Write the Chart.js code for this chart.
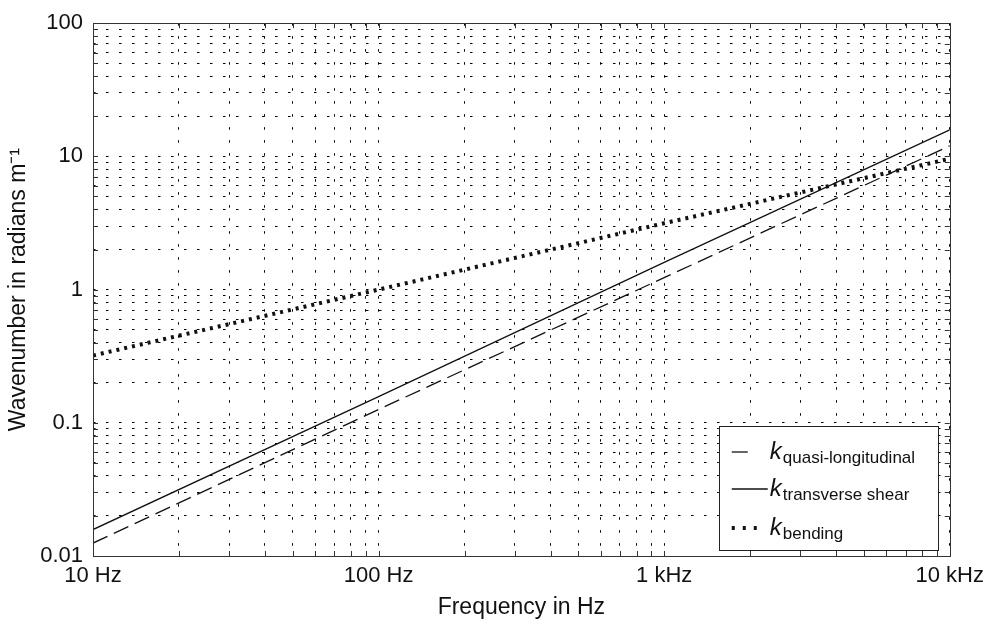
<!DOCTYPE html>
<html>
<head>
<meta charset="utf-8">
<script src="https://cdn.jsdelivr.net/npm/chart.js@4.4.1/dist/chart.umd.min.js"></script>
<style>
  html, body { margin: 0; padding: 0; background: #fff; }
  #wrap { width: 991px; height: 624px; }
</style>
</head>
<body>
<div id="wrap"><canvas id="waveChart" width="991" height="624"></canvas></div>
<script>
// values (log-log)
const freqHz = [10, 100, 1000, 10000];
const kQuasiLongitudinal = [0.0125, 0.126, 1.23, 12.0];
const kTransverseShear = [0.0158, 0.157, 1.6, 15.8];
const kBending = [0.32, 1.0, 3.15, 9.6];

const xTickValues = [10, 100, 1000, 10000];
const xTickLabels = ["10 Hz", "100 Hz", "1 kHz", "10 kHz"];
const yTickValues = [0.01, 0.1, 1, 10, 100];
const yTickLabels = ["0.01", "0.1", "1", "10", "100"];
const legendSubs = ["quasi-longitudinal", "transverse shear", "bending"];

const FONT = "'Liberation Sans', Arial, sans-serif";

function pts(ys) {
  return freqHz.map((f, i) => ({ x: f, y: ys[i] }));
}

// 1..9 x 10^n ticks between min and max
function logTicks(min, max) {
  const out = [];
  const e0 = Math.floor(Math.log10(min));
  const e1 = Math.ceil(Math.log10(max));
  for (let e = e0; e <= e1; e++) {
    for (let m = 1; m <= 9; m++) {
      const v = parseFloat((m * Math.pow(10, e)).toPrecision(6));
      if (v >= min * 0.999 && v <= max * 1.001) out.push({ value: v });
    }
  }
  return out;
}

function labelFor(values, labels, v) {
  const i = values.findIndex(t => Math.abs(t - v) / t < 1e-6);
  return i >= 0 ? labels[i] : "";
}

// box + inward tick marks, like the original plot
const frameTicks = {
  id: "frameTicks",
  afterDatasetsDraw(chart) {
    const { ctx, chartArea: a, scales } = chart;
    ctx.save();
    ctx.strokeStyle = "#333";
    ctx.lineWidth = 1;
    ctx.setLineDash([]);
    ctx.strokeRect(Math.round(a.left) + 0.5, Math.round(a.top) + 0.5,
      Math.round(a.right - a.left), Math.round(a.bottom - a.top));
    const len = 5;
    ctx.beginPath();
    scales.x.ticks.forEach(t => {
      const px = Math.round(scales.x.getPixelForValue(t.value)) + 0.5;
      ctx.moveTo(px, a.bottom); ctx.lineTo(px, a.bottom - len);
      ctx.moveTo(px, a.top); ctx.lineTo(px, a.top + len);
    });
    scales.y.ticks.forEach(t => {
      const py = Math.round(scales.y.getPixelForValue(t.value)) + 0.5;
      ctx.moveTo(a.left, py); ctx.lineTo(a.left + len, py);
      ctx.moveTo(a.right, py); ctx.lineTo(a.right - len, py);
    });
    ctx.stroke();
    ctx.restore();
  }
};

// legend with italic k and subscripts
const subLegend = {
  id: "subLegend",
  afterDraw(chart) {
    const { ctx, chartArea: a } = chart;
    const w = 219, h = 124;
    const x0 = a.right - 12 - w, y0 = a.bottom - 6 - h;
    ctx.save();
    ctx.fillStyle = "#fff";
    ctx.fillRect(x0, y0, w, h);
    ctx.strokeStyle = "#222";
    ctx.lineWidth = 1;
    ctx.setLineDash([]);
    ctx.strokeRect(Math.round(x0) + 0.5, Math.round(y0) + 0.5, w, h);
    const rowY = [26, 63, 102];
    const sampleLen = [18, 36, 30];
    chart.data.datasets.forEach((ds, i) => {
      const y = y0 + rowY[i];
      ctx.strokeStyle = ds.borderColor;
      ctx.lineWidth = ds.borderWidth;
      ctx.setLineDash(i === 2 ? [3, 8] : (ds.borderDash || []));
      ctx.beginPath();
      ctx.moveTo(x0 + 13, y);
      ctx.lineTo(x0 + 13 + sampleLen[i], y);
      ctx.stroke();
      ctx.setLineDash([]);
      ctx.fillStyle = "#111";
      ctx.textBaseline = "alphabetic";
      ctx.font = "italic 24px " + FONT;
      const kx = x0 + 51;
      ctx.fillText("k", kx, y + 7);
      const kw = ctx.measureText("k").width;
      ctx.font = "17px " + FONT;
      ctx.fillText(legendSubs[i], kx + kw + 1, y + 11);
    });
    ctx.restore();
  }
};

const chart = new Chart(document.getElementById("waveChart").getContext("2d"), {
  type: "line",
  data: {
    datasets: [
      {
        label: "k quasi-longitudinal",
        data: pts(kQuasiLongitudinal),
        borderColor: "#111",
        borderWidth: 1.3,
        borderDash: [16, 7],
        pointRadius: 0
      },
      {
        label: "k transverse shear",
        data: pts(kTransverseShear),
        borderColor: "#111",
        borderWidth: 1.3,
        pointRadius: 0
      },
      {
        label: "k bending",
        data: pts(kBending),
        borderColor: "#111",
        borderWidth: 4,
        borderDash: [3, 5],
        borderCapStyle: "butt",
        pointRadius: 0
      }
    ]
  },
  options: {
    responsive: false,
    animation: false,
    layout: { padding: { top: 18, right: 40, left: 0, bottom: 0 } },
    plugins: {
      legend: { display: false },
      tooltip: { enabled: false }
    },
    scales: {
      x: {
        type: "logarithmic",
        min: 10,
        max: 10000,
        afterBuildTicks: s => { s.ticks = logTicks(10, 10000); },
        afterFit: s => { s.height = 68; },
        grid: { color: "#000", lineWidth: 1, drawTicks: false },
        border: { display: false, dash: [2.5, 10.5] },
        ticks: {
          autoSkip: false,
          maxRotation: 0,
          padding: 7,
          color: "#111",
          font: { family: FONT, size: 22 },
          callback: v => labelFor(xTickValues, xTickLabels, v)
        },
        title: {
          display: true,
          text: "Frequency in Hz",
          color: "#111",
          font: { family: FONT, size: 23 },
          padding: { top: 0, bottom: 3 }
        }
      },
      y: {
        type: "logarithmic",
        min: 0.01,
        max: 100,
        afterBuildTicks: s => { s.ticks = logTicks(0.01, 100); },
        afterFit: s => { s.width = 93; },
        grid: { color: "#000", lineWidth: 1, drawTicks: false },
        border: { display: false, dash: [2.5, 10.5] },
        ticks: {
          autoSkip: false,
          padding: 10,
          color: "#111",
          font: { family: FONT, size: 22 },
          callback: v => labelFor(yTickValues, yTickLabels, v)
        },
        title: {
          display: true,
          text: "Wavenumber in radians m\u207B\u00B9",
          color: "#111",
          font: { family: FONT, size: 23 },
          padding: { top: 5, bottom: 0 }
        }
      }
    }
  },
  plugins: [frameTicks, subLegend]
});
</script>
</body>
</html>
